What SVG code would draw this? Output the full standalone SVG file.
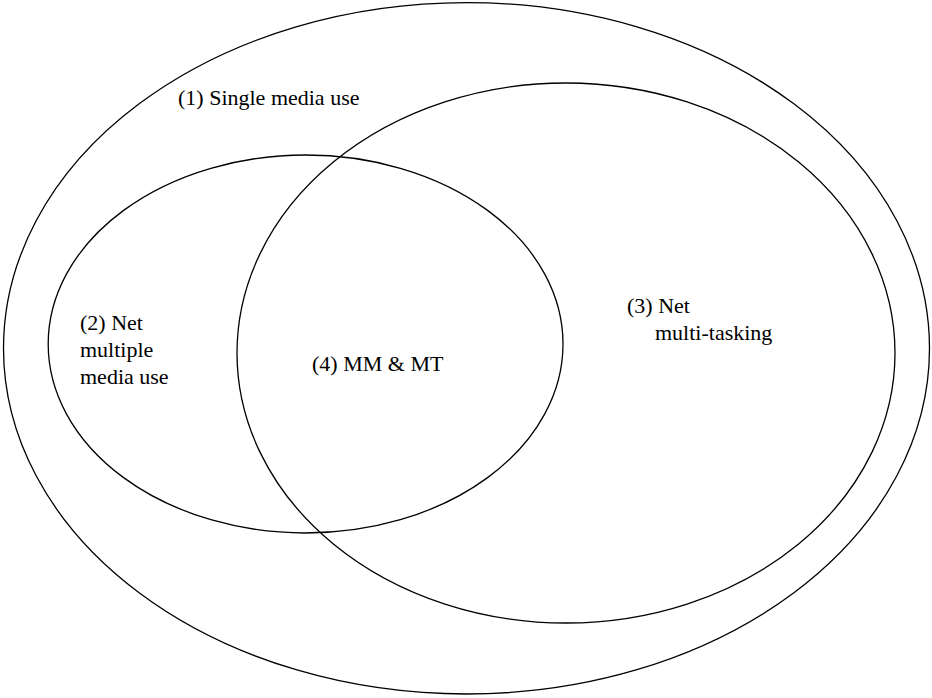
<svg xmlns="http://www.w3.org/2000/svg" width="932" height="698" viewBox="0 0 932 698">
<style>
.set{fill:none;stroke:#000;stroke-width:1.3}
.lbl{font-family:"Liberation Serif","Times New Roman",serif;font-size:22px;fill:#000}
</style>
<rect width="932" height="698" fill="#fff"/>
<g id="outer">
<ellipse class="set" cx="466.5" cy="348.3" rx="463" ry="345.7"/>
<text class="lbl" x="178" y="105">(1) Single media use</text>
</g>
<g id="multiple-media">
<ellipse class="set" cx="305.6" cy="344" rx="257.4" ry="189"/>
<text class="lbl" x="80" y="330">(2) Net</text>
<text class="lbl" x="80" y="357">multiple</text>
<text class="lbl" x="80" y="384">media use</text>
</g>
<g id="multi-tasking">
<ellipse class="set" cx="566" cy="353" rx="329" ry="270"/>
<text class="lbl" x="627" y="313">(3) Net</text>
<text class="lbl" x="655" y="340">multi-tasking</text>
</g>
<g id="intersection">
<text class="lbl" x="312" y="371">(4) MM &amp; MT</text>
</g>
<g id="connectors"/>
</svg>
